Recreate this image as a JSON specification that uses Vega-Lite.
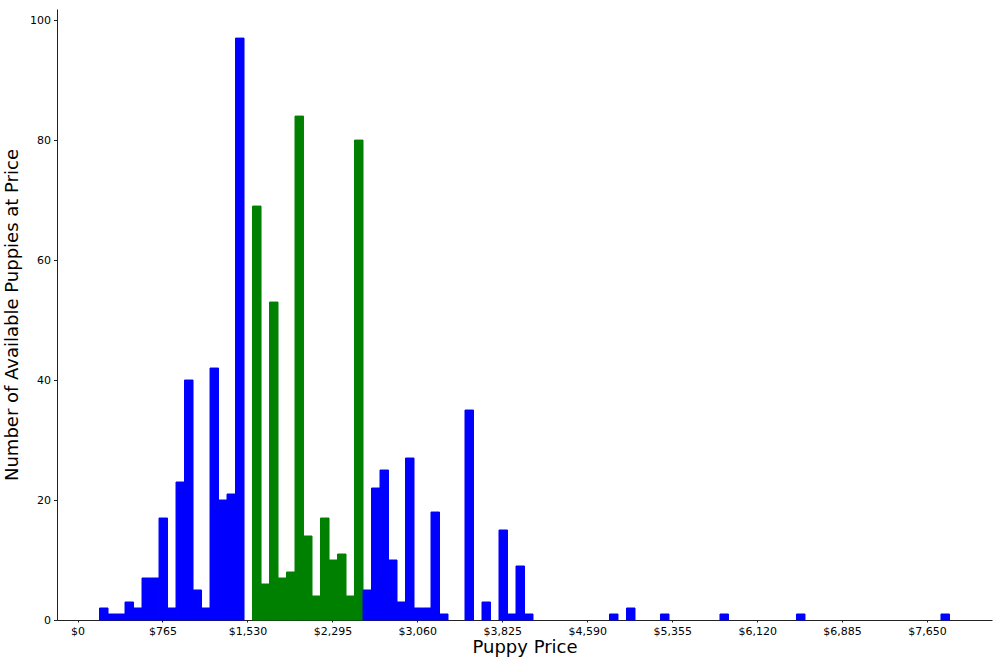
{
  "$schema": "https://vega.github.io/schema/vega-lite/v6.json",
  "width": 935,
  "height": 611,
  "autosize": "none",
  "padding": {"left": 57, "top": 9, "right": 8, "bottom": 46},
  "background": "white",
  "config": {
    "view": {"stroke": null},
    "font": "DejaVu Sans",
    "axis": {"grid": false, "domainColor": "#222222", "tickColor": "#222222", "labelColor": "#000000", "titleColor": "#000000", "labelFont": "DejaVu Sans", "titleFont": "DejaVu Sans", "labelFontSize": 11, "titleFontSize": 18, "titleFontWeight": "normal", "domainWidth": 1}
  },
  "data": {
    "values": [
      {"start": 198.0, "end": 274.5, "count": 2, "group": "other"},
      {"start": 274.5, "end": 351.1, "count": 1, "group": "other"},
      {"start": 351.1, "end": 427.6, "count": 1, "group": "other"},
      {"start": 427.6, "end": 504.2, "count": 3, "group": "other"},
      {"start": 504.2, "end": 580.7, "count": 2, "group": "other"},
      {"start": 580.7, "end": 657.2, "count": 7, "group": "other"},
      {"start": 657.2, "end": 733.8, "count": 7, "group": "other"},
      {"start": 733.8, "end": 810.3, "count": 17, "group": "other"},
      {"start": 810.3, "end": 886.9, "count": 2, "group": "other"},
      {"start": 886.9, "end": 963.4, "count": 23, "group": "other"},
      {"start": 963.4, "end": 1039.9, "count": 40, "group": "other"},
      {"start": 1039.9, "end": 1116.5, "count": 5, "group": "other"},
      {"start": 1116.5, "end": 1193.0, "count": 2, "group": "other"},
      {"start": 1193.0, "end": 1269.6, "count": 42, "group": "other"},
      {"start": 1269.6, "end": 1346.1, "count": 20, "group": "other"},
      {"start": 1346.1, "end": 1422.6, "count": 21, "group": "other"},
      {"start": 1422.6, "end": 1499.2, "count": 97, "group": "other"},
      {"start": 1575.7, "end": 1652.3, "count": 69, "group": "highlight"},
      {"start": 1652.3, "end": 1728.8, "count": 6, "group": "highlight"},
      {"start": 1728.8, "end": 1805.3, "count": 53, "group": "highlight"},
      {"start": 1805.3, "end": 1881.9, "count": 7, "group": "highlight"},
      {"start": 1881.9, "end": 1958.4, "count": 8, "group": "highlight"},
      {"start": 1958.4, "end": 2035.0, "count": 84, "group": "highlight"},
      {"start": 2035.0, "end": 2111.5, "count": 14, "group": "highlight"},
      {"start": 2111.5, "end": 2188.0, "count": 4, "group": "highlight"},
      {"start": 2188.0, "end": 2264.6, "count": 17, "group": "highlight"},
      {"start": 2264.6, "end": 2341.1, "count": 10, "group": "highlight"},
      {"start": 2341.1, "end": 2417.7, "count": 11, "group": "highlight"},
      {"start": 2417.7, "end": 2494.2, "count": 4, "group": "highlight"},
      {"start": 2494.2, "end": 2570.7, "count": 80, "group": "highlight"},
      {"start": 2570.7, "end": 2647.3, "count": 5, "group": "other"},
      {"start": 2647.3, "end": 2723.8, "count": 22, "group": "other"},
      {"start": 2723.8, "end": 2800.4, "count": 25, "group": "other"},
      {"start": 2800.4, "end": 2876.9, "count": 10, "group": "other"},
      {"start": 2876.9, "end": 2953.4, "count": 3, "group": "other"},
      {"start": 2953.4, "end": 3030.0, "count": 27, "group": "other"},
      {"start": 3030.0, "end": 3106.5, "count": 2, "group": "other"},
      {"start": 3106.5, "end": 3183.1, "count": 2, "group": "other"},
      {"start": 3183.1, "end": 3259.6, "count": 18, "group": "other"},
      {"start": 3259.6, "end": 3336.1, "count": 1, "group": "other"},
      {"start": 3489.2, "end": 3565.8, "count": 35, "group": "other"},
      {"start": 3642.3, "end": 3718.8, "count": 3, "group": "other"},
      {"start": 3795.4, "end": 3871.9, "count": 15, "group": "other"},
      {"start": 3871.9, "end": 3948.5, "count": 1, "group": "other"},
      {"start": 3948.5, "end": 4025.0, "count": 9, "group": "other"},
      {"start": 4025.0, "end": 4101.5, "count": 1, "group": "other"},
      {"start": 4790.4, "end": 4866.9, "count": 1, "group": "other"},
      {"start": 4943.5, "end": 5020.0, "count": 2, "group": "other"},
      {"start": 5249.6, "end": 5326.2, "count": 1, "group": "other"},
      {"start": 5785.4, "end": 5862.0, "count": 1, "group": "other"},
      {"start": 6474.3, "end": 6550.8, "count": 1, "group": "other"},
      {"start": 7775.5, "end": 7852.0, "count": 1, "group": "other"}
    ]
  },
  "mark": {"type": "bar", "strokeWidth": 1},
  "encoding": {
    "x": {
      "field": "start",
      "type": "quantitative",
      "scale": {"domain": [-185, 8235], "nice": false, "zero": false},
      "axis": {
        "title": "Puppy Price",
        "values": [0, 765, 1530, 2295, 3060, 3825, 4590, 5355, 6120, 6885, 7650],
        "format": "$,.0f",
        "tickSize": 2,
        "labelPadding": 3,
        "titlePadding": 2,
        "labelFlush": false
      }
    },
    "x2": {"field": "end"},
    "y": {
      "field": "count",
      "type": "quantitative",
      "scale": {"domain": [0, 101.85], "nice": false},
      "axis": {
        "title": "Number of Available Puppies at Price",
        "values": [0, 20, 40, 60, 80, 100],
        "tickSize": 3.5,
        "labelPadding": 3,
        "titlePadding": 8,
        "labelFlush": false
      }
    },
    "y2": {"datum": 0},
    "color": {
      "field": "group",
      "type": "nominal",
      "scale": {"domain": ["other", "highlight"], "range": ["#0000ff", "#008000"]},
      "legend": null
    },
    "stroke": {
      "field": "group",
      "type": "nominal",
      "scale": {"domain": ["other", "highlight"], "range": ["#0000ff", "#008000"]},
      "legend": null
    }
  }
}
